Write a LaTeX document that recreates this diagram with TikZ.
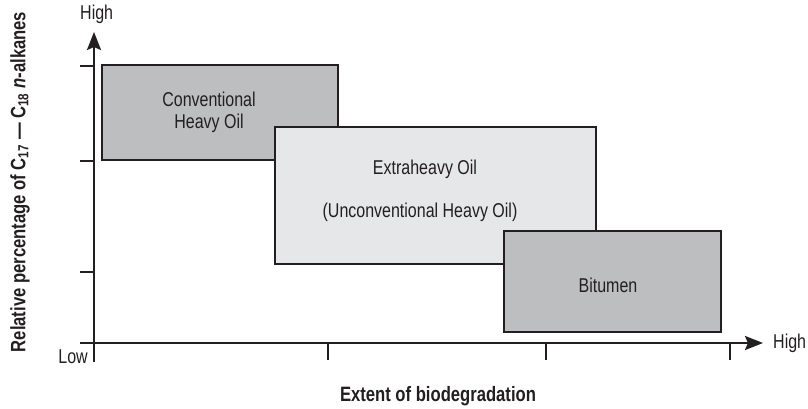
\documentclass[tikz,border=0pt]{standalone}
\usepackage{fontspec}
\setmainfont[FakeStretch=0.8]{Liberation Sans}
\usetikzlibrary{arrows.meta}
\definecolor{ink}{HTML}{231F20}
\definecolor{darkfill}{HTML}{BDBEC0}
\definecolor{lightfill}{HTML}{E6E7E8}
\tikzset{
  region/.style={draw=ink, line width=2pt, inner sep=0pt, outer sep=0pt},
  axis/.style={draw=ink, line width=2.4pt, -{Stealth[length=18pt,width=14pt,inset=3pt]}},
  tick/.style={draw=ink, line width=2.4pt},
  lbl/.style={text=ink, font=\fontsize{20}{23}\selectfont, inner sep=0pt},
  title/.style={text=ink, font=\fontsize{20.8}{24}\selectfont\bfseries, inner sep=0pt}
}
\begin{document}
\begin{tikzpicture}[x=1pt,y=-1pt]
\useasboundingbox (0,0) rectangle (808,409);
% origin and axis ends
\coordinate (ytop) at (94,32);
\coordinate (xend) at (763,343);
\coordinate (ybot) at (94,362);
\coordinate (xleft) at (80,343);
% axes
\draw[axis] (ybot) -- (ytop);
\draw[axis] (xleft) -- (xend);
% y ticks
\foreach \yy [count=\i] in {66,161,272} {
  \coordinate (ya\i) at (80,\yy);
  \coordinate (yb\i) at (94,\yy);
  \draw[tick] (ya\i) -- (yb\i);
}
% x ticks
\foreach \xx [count=\i] in {328,546,730} {
  \coordinate (xa\i) at (\xx,343);
  \coordinate (xb\i) at (\xx,360);
  \draw[tick] (xa\i) -- (xb\i);
}
% oil regions
\node[region, fill=darkfill, minimum width=236pt, minimum height=95pt] (conv) at (220,112.5) {};
\node[region, fill=lightfill, minimum width=321pt, minimum height=137pt] (xheavy) at (435.5,195.5) {};
\node[region, fill=darkfill, minimum width=217pt, minimum height=101pt] (bit) at (612.5,281.5) {};
% region names
\node[lbl, align=center] (convt) at (209,112) {Conventional\\[-1pt]Heavy Oil};
\node[lbl] (xheavyt) at (425,169) {Extraheavy Oil};
\node[lbl] (xheavyt2) at (420,212) {(Unconventional Heavy Oil)};
\node[lbl] (bitt) at (608,285) {Bitumen};
% axis words
\node[lbl, anchor=south west] (yhigh) at (80,24) {High};
\node[lbl, anchor=east] (ylow) at (88,357) {Low};
\node[lbl, anchor=west] (xhigh) at (773,343) {High};
\node[title] (xtitle) at (438,396) {Extent of biodegradation};
\node[title, rotate=90] (ytitle) at (20,182) {Relative percentage of C\textsubscript{17} --- C\textsubscript{18} \textit{n}-alkanes};
\end{tikzpicture}
\end{document}
